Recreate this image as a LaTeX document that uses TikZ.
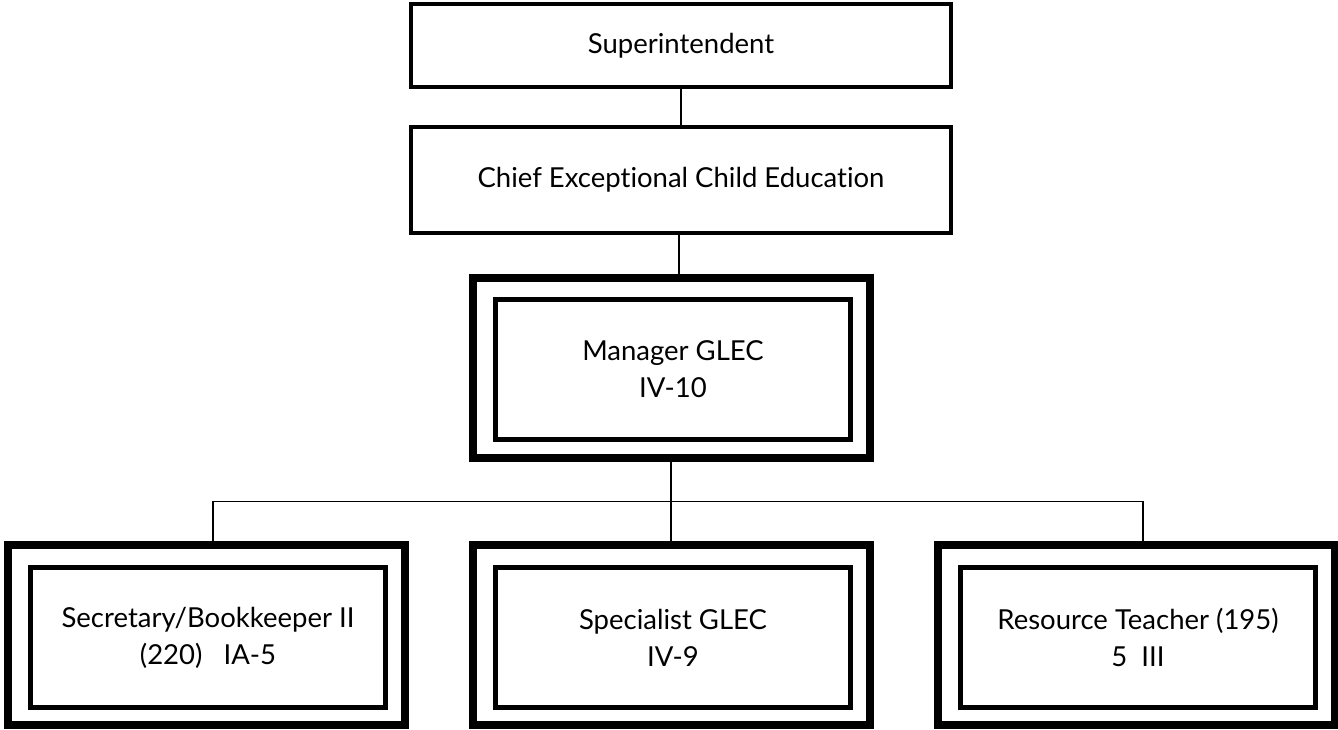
\documentclass[tikz,border=0pt]{standalone}
\usepackage{fontspec}
\setmainfont{Lato}[Ligatures=NoCommon]
\usepackage{tikz}
\usetikzlibrary{positioning,calc}
\newcommand{\orgfont}{\fontsize{27.5}{37}\selectfont}
\tikzstyle{link} = [line width=1.5pt, color=black]
\tikzstyle{topbox} = [rectangle, draw=black, line width=4pt, minimum width=540pt, text centered, align=center, font=\orgfont]
\tikzstyle{framebox} = [rectangle, draw=black, line width=8pt, minimum width=397pt, minimum height=180pt]
\tikzstyle{innerbox} = [rectangle, draw=black, line width=5pt, minimum width=355pt, minimum height=140pt, text centered, align=center, font=\orgfont]

\begin{document}
\begin{tikzpicture}[x=1pt, y=-1pt]
\useasboundingbox (0,0) rectangle (1338,729);

% Top of the chart
\node[topbox, minimum height=83pt] (sup) at (681,45.5) {Superintendent};
\node[topbox, minimum height=106pt] (chief) at (681,180) {Chief Exceptional Child Education};

% Manager (double frame)
\node[framebox] (mgr) at (671,368) {};
\node[innerbox] (mgrin) at (673,369.5) {Manager GLEC\\IV-10};

% Boxes below
\node[framebox] (sec) at (206,634.5) {};
\node[innerbox] (secin) at (208,637.5) {Secretary/Bookkeeper II\\(220)~~~IA-5};
\node[framebox] (spec) at (671,634.5) {};
\node[innerbox] (specin) at (673,637.5) {Specialist GLEC\\IV-9};
\node[framebox] (res) at (1136,634.5) {};
\node[innerbox] (resin) at (1138,637.5) {Resource Teacher (195)\\5~~III};

% Lines
\coordinate (bus) at ($(mgr.south)!0.5!(spec.north)$);
\draw[link] (sup) -- (chief);
\draw[link] ([xshift=-2pt]chief.south) -- ([xshift=-2pt]chief.south |- mgr.north);
\draw[link] (mgr.south) -- (spec.north);
\draw[link] ([xshift=7pt]sec.north) |- (bus) -| ([xshift=7pt]res.north);
\end{tikzpicture}
\end{document}
